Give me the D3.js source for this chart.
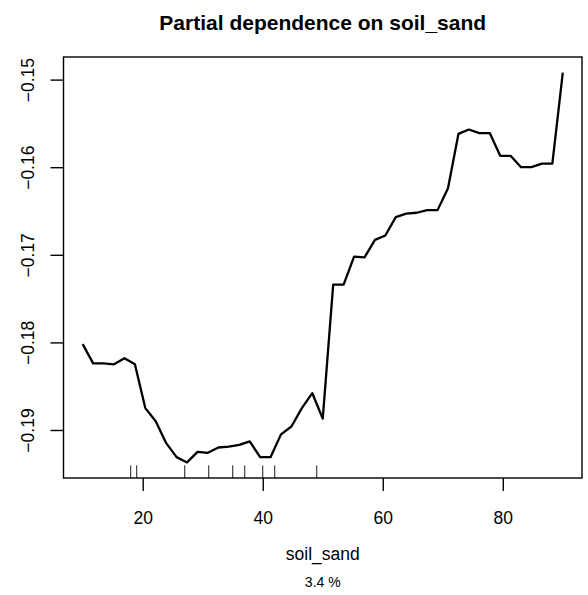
<!DOCTYPE html>
<html>
<head>
<meta charset="utf-8">
<script src="https://cdn.jsdelivr.net/npm/d3@7"></script>
<style>
  body { margin: 0; background: #fff; }
  svg { display: block; font-family: "Liberation Sans", Arial, Helvetica, sans-serif; }
</style>
</head>
<body>
<svg id="chart" width="588" height="595"></svg>
<script>
// soil_sand grid (47 points) and partial dependence
const sandValues = [10.00, 11.74, 13.48, 15.22, 16.96, 18.70, 20.43, 22.17, 23.91, 25.65,
    27.39, 29.13, 30.87, 32.61, 34.35, 36.09, 37.83, 39.57, 41.30, 43.04,
    44.78, 46.52, 48.26, 50.00, 51.74, 53.48, 55.22, 56.96, 58.70, 60.43,
    62.17, 63.91, 65.65, 67.39, 69.13, 70.87, 72.61, 74.35, 76.09, 77.83,
    79.57, 81.30, 83.04, 84.78, 86.52, 88.26, 90.00];
const dependence = [-0.1802, -0.1824, -0.1824, -0.1825, -0.1818, -0.1825, -0.1875, -0.1890, -0.1915, -0.1931,
    -0.1937, -0.1925, -0.1926, -0.1920, -0.1919, -0.1917, -0.1913, -0.1931, -0.1931, -0.1905,
    -0.1896, -0.1875, -0.1858, -0.1887, -0.1734, -0.1734, -0.1702, -0.1703, -0.1683, -0.1678,
    -0.1657, -0.1653, -0.1652, -0.1649, -0.1649, -0.1624, -0.1562, -0.1557, -0.1561, -0.1561,
    -0.1587, -0.1587, -0.1600, -0.1600, -0.1596, -0.1596, -0.1492];
// deciles shown as rug
const rugValues = [18, 19, 27, 31, 35, 37, 40, 42, 49];
const xTicks = [20, 40, 60, 80];
const yTicks = [-0.19, -0.18, -0.17, -0.16, -0.15];

const titleText = "Partial dependence on soil_sand";
const xLabel = "soil_sand";
const subLabel = "3.4 %";

const margin = { top: 57, right: 6, bottom: 117, left: 63.5 };
const width = 588, height = 595;
const plotW = width - margin.left - margin.right;
const plotH = height - margin.top - margin.bottom;

// R style 4% padding on both axes
const pad = ([a, b]) => { const d = (b - a) * 0.04; return [a - d, b + d]; };

const x = d3.scaleLinear().domain(pad(d3.extent(sandValues))).range([0, plotW]);
const y = d3.scaleLinear().domain(pad(d3.extent(dependence))).range([plotH, 0]);

const svg = d3.select("#chart");

svg.append("text")
    .attr("x", margin.left + plotW / 2)
    .attr("y", 30)
    .attr("text-anchor", "middle")
    .style("font-size", "21px")
    .style("font-weight", "bold")
    .text(titleText);

const g = svg.append("g")
    .attr("transform", `translate(${margin.left},${margin.top})`);

// curve
const line = d3.line()
    .x((d, i) => x(sandValues[i]))
    .y(d => y(d));

g.append("path")
    .datum(dependence)
    .attr("fill", "none")
    .attr("stroke", "#000")
    .attr("stroke-width", 2.3)
    .attr("stroke-linejoin", "round")
    .attr("d", line);

// rug
g.selectAll(".rug")
    .data(rugValues)
    .enter().append("line")
    .attr("class", "rug")
    .attr("x1", d => x(d)).attr("x2", d => x(d))
    .attr("y1", plotH).attr("y2", plotH - plotH * 0.03)
    .attr("stroke", "#000")
    .attr("stroke-width", 0.9);

// x axis
const xAxis = g.append("g")
    .attr("transform", `translate(0,${plotH})`)
    .call(d3.axisBottom(x).tickValues(xTicks).tickSize(13).tickFormat(d3.format("d")));
xAxis.select(".domain").remove();
xAxis.selectAll("line").attr("stroke-width", 1.4);
xAxis.selectAll("text")
    .attr("y", 46)
    .attr("dy", null)
    .attr("fill", "#000")
    .style("font-size", "17.5px")
    .style("font-family", "inherit");

// y axis
const yAxis = g.append("g")
    .call(d3.axisLeft(y).tickValues(yTicks).tickSize(13).tickFormat(d3.format(".2f")));
yAxis.select(".domain").remove();
yAxis.selectAll("line").attr("stroke-width", 1.4);
yAxis.selectAll("text")
    .attr("x", null)
    .attr("dy", null)
    .attr("transform", "translate(-30,0) rotate(-90)")
    .attr("text-anchor", "middle")
    .attr("fill", "#000")
    .style("font-size", "17.5px")
    .style("font-family", "inherit");

// box
g.append("rect")
    .attr("width", plotW)
    .attr("height", plotH)
    .attr("fill", "none")
    .attr("stroke", "#000")
    .attr("stroke-width", 1.4);

svg.append("text")
    .attr("x", margin.left + plotW / 2)
    .attr("y", 560)
    .attr("text-anchor", "middle")
    .style("font-size", "17.5px")
    .text(xLabel);

svg.append("text")
    .attr("x", margin.left + plotW / 2)
    .attr("y", 587)
    .attr("text-anchor", "middle")
    .style("font-size", "14px")
    .text(subLabel);
</script>
</body>
</html>
